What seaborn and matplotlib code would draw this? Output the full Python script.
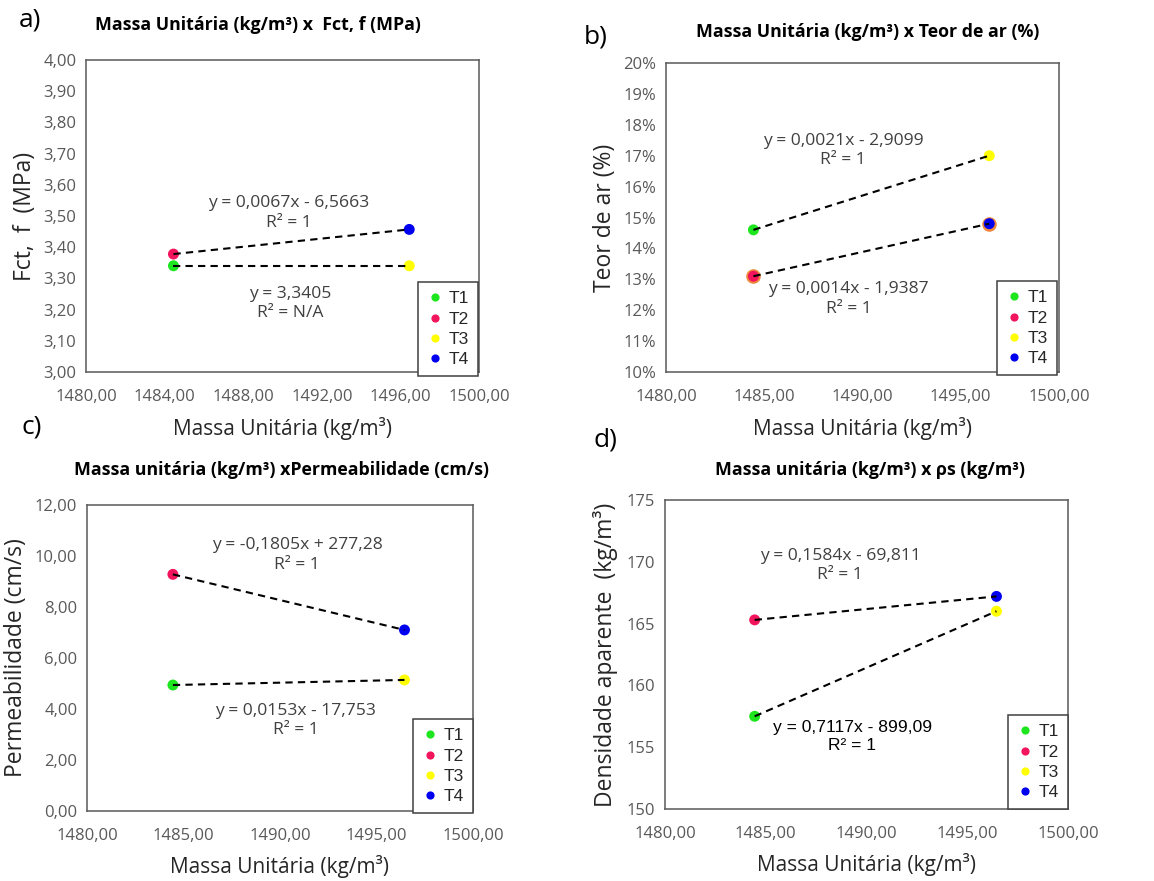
import matplotlib
matplotlib.use('Agg')
import matplotlib.pyplot as plt
import seaborn as sns
import pandas as pd
from matplotlib.ticker import FuncFormatter

# dados
grupos = ['T1', 'T2', 'T3', 'T4']
cores = ['#1EE61E', '#F2145C', '#FFFF00', '#0000F0']
massa = [1484.45, 1484.45, 1496.45, 1496.45]
fct = [3.3405, 3.378, 3.3405, 3.457]
teor_ar = [0.146, 0.131, 0.170, 0.148]
permeab = [4.94, 9.28, 5.14, 7.10]
densidade = [157.5, 165.3, 166.0, 167.2]
pares = [('T1', 'T3'), ('T2', 'T4')]

sns.set_style('white')
plt.rcParams['font.family'] = ['Open Sans', 'DejaVu Sans']

W, H = 1154, 881
fig = plt.figure(figsize=(W / 100, H / 100), dpi=100)


def virgula(dec):
    return FuncFormatter(lambda v, p: f'{v:.{dec}f}'.replace('.', ','))


paineis = [
    dict(col=fct, box=(86, 60, 479, 372), ylim=(3.0, 4.0), yt=[3 + 0.1 * i for i in range(11)],
         yfmt=virgula(2), xt=[1480, 1484, 1488, 1492, 1496, 1500],
         ylabel='Fct,  f  (MPa)', ylx=25, title='Massa Unitária (kg/m³) x  Fct, f (MPa)', tpos=(258, 25),
         letra='a)', lpos=(30, 20), xlab_y=429, xt_y=397, anel=False,
         eqs=[(1490.3, 3.51, 'y = 0,0067x - 6,5663\nR² = 1', '#404040', 'Open Sans'),
              (1490.4, 3.22, 'y = 3,3405\nR² = N/A', '#404040', 'Open Sans')],
         leg=(478, 376)),
    dict(col=teor_ar, box=(666, 63, 1059, 372), ylim=(0.10, 0.20), yt=[0.10 + 0.01 * i for i in range(11)],
         yfmt=FuncFormatter(lambda v, p: f'{round(v * 100):d}%'), xt=[1480, 1485, 1490, 1495, 1500],
         ylabel='Teor de ar (%)', ylx=605, title='Massa Unitária (kg/m³) x Teor de ar (%)', tpos=(868, 32),
         letra='b)', lpos=(596, 37), xlab_y=429, xt_y=397, anel=True,
         eqs=[(1489.0, 0.1717, 'y = 0,0021x - 2,9099\nR² = 1', '#404040', 'Open Sans'),
              (1489.3, 0.1236, 'y = 0,0014x - 1,9387\nR² = 1', '#404040', 'Open Sans')],
         leg=(1057, 375)),
    dict(col=permeab, box=(87, 505, 473, 811), ylim=(0, 12), yt=[0, 2, 4, 6, 8, 10, 12],
         yfmt=virgula(2), xt=[1480, 1485, 1490, 1495, 1500],
         ylabel='Permeabilidade (cm/s)', ylx=16, title='Massa unitária (kg/m³) xPermeabilidade (cm/s)',
         tpos=(282, 470), letra='c)', lpos=(32, 427), xlab_y=867, xt_y=835, anel=False,
         eqs=[(1490.9, 10.04, 'y = -0,1805x + 277,28\nR² = 1', '#404040', 'Open Sans'),
              (1490.8, 3.55, 'y = 0,0153x - 17,753\nR² = 1', '#404040', 'Open Sans')],
         leg=(473, 813)),
    dict(col=densidade, box=(665, 500, 1068, 809), ylim=(150, 175), yt=[150, 155, 160, 165, 170, 175],
         yfmt=virgula(0), xt=[1480, 1485, 1490, 1495, 1500],
         ylabel='Densidade aparente  (kg/m³)', ylx=605, title='Massa unitária (kg/m³) x ρs (kg/m³)',
         tpos=(870, 470), letra='d)', lpos=(605, 440), xlab_y=865, xt_y=833, anel=False,
         eqs=[(1488.7, 169.7, 'y = 0,1584x - 69,811\nR² = 1', '#404040', 'Open Sans'),
              (1489.3, 155.85, 'y = 0,7117x - 899,09\nR² = 1', '#000000', 'Liberation Sans')],
         leg=(1068, 809)),
]

for p in paineis:
    x0, y0, x1, y1 = p['box']
    ax = fig.add_axes([x0 / W, 1 - y1 / H, (x1 - x0) / W, (y1 - y0) / H])
    df = pd.DataFrame({'massa': massa, 'y': p['col'], 'grupo': grupos})

    if p['anel']:
        # contorno laranja por baixo dos pontos T2 e T4
        sub = df[df['grupo'].isin(['T2', 'T4'])]
        sns.scatterplot(data=sub, x='massa', y='y', color='#F0883C', s=110, linewidth=0,
                        ax=ax, zorder=2, legend=False)
    sns.scatterplot(data=df, x='massa', y='y', hue='grupo', hue_order=grupos, palette=cores,
                    s=62, linewidth=0, ax=ax, zorder=3)
    for a, b in pares:
        sub = df[df['grupo'].isin([a, b])]
        sns.regplot(data=sub, x='massa', y='y', ax=ax, scatter=False, ci=None, truncate=True,
                    line_kws=dict(color='black', ls=(0, (3.5, 2.5)), lw=1.5, zorder=4))

    ax.set_xlim(1480, 1500)
    ax.set_ylim(*p['ylim'])
    ax.set_xticks(p['xt'])
    ax.set_yticks(p['yt'])
    ax.xaxis.set_major_formatter(virgula(2))
    ax.yaxis.set_major_formatter(p['yfmt'])
    ax.tick_params(length=0, labelsize=12, labelcolor='#595959', pad=7)
    ax.tick_params(axis='x', pad=12)
    ax.set_xlabel('')
    ax.set_ylabel('')
    for s in ax.spines.values():
        s.set_color('#595959')
        s.set_linewidth(1.1)

    for ex, ey, txt, cor, fam in p['eqs']:
        ax.text(ex, ey, txt, ha='center', va='center', fontsize=12.6, color=cor,
                family=fam, linespacing=1.3, zorder=5)

    ax.legend(loc='lower right', bbox_to_anchor=(p['leg'][0] / W, 1 - p['leg'][1] / H),
              bbox_transform=fig.transFigure, borderaxespad=0, frameon=True, fancybox=False,
              edgecolor='#404040', framealpha=1, prop=dict(family='Liberation Sans', size=12.5),
              handletextpad=0.3, handlelength=1.0, labelspacing=0.3, borderpad=0.5,
              markerscale=0.75)
    ax.get_legend().get_frame().set_linewidth(1.1)

    fig.text(p['tpos'][0] / W, 1 - p['tpos'][1] / H, p['title'], ha='center', va='center',
             fontsize=12.8, fontweight='bold', color='black')
    fig.text(p['lpos'][0] / W, 1 - p['lpos'][1] / H, p['letra'], ha='center', va='center',
             fontsize=19, color='black')
    fig.text(p['ylx'] / W, 1 - (y0 + y1) / 2 / H, p['ylabel'], ha='center', va='center',
             rotation=90, fontsize=16.5, color='#262626')
    fig.text((x0 + x1) / 2 / W, 1 - p['xlab_y'] / H, 'Massa Unitária (kg/m³)', ha='center',
             va='center', fontsize=15, color='#262626')

fig.savefig('out.png', dpi=100)
